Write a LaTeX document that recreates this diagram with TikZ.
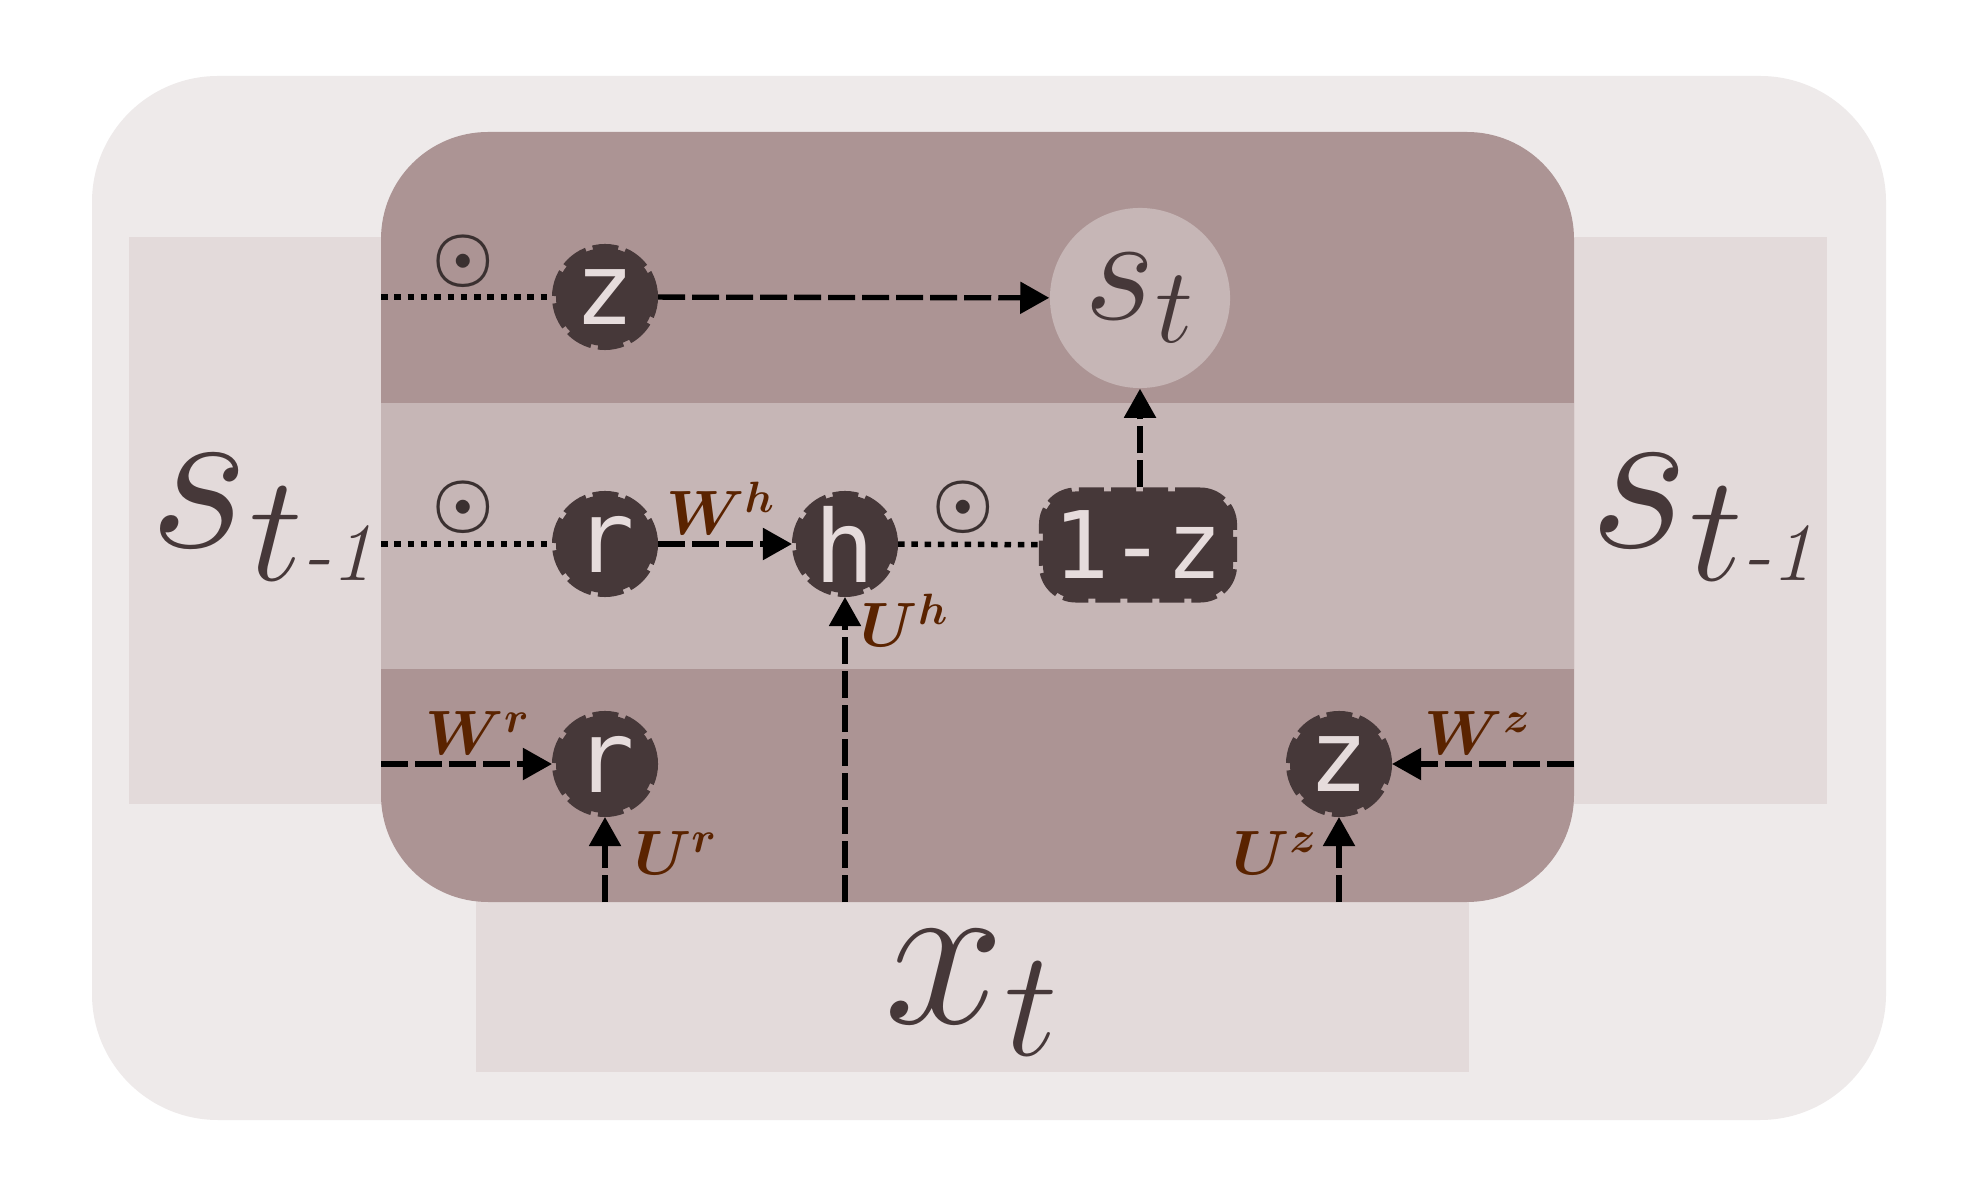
\RequirePackage{fix-cm}
\documentclass[tikz,border=0pt]{standalone}
\usepackage{amsmath}
\usepackage{fontspec}
\usepackage{bm}
\usetikzlibrary{arrows.meta}
\newfontfamily\gatefont{DejaVu Sans Mono}
\definecolor{outerbg}{HTML}{EEEAEA}
\definecolor{sidebg}{HTML}{E3DADA}
\definecolor{mainbg}{HTML}{AC9494}
\definecolor{midbg}{HTML}{C6B6B6}
\definecolor{gatedark}{HTML}{463839}
\definecolor{gatetext}{HTML}{E6DCDC}
\definecolor{labelbrown}{HTML}{5A2300}
\definecolor{odotcol}{HTML}{3A3030}
\newcommand{\minusone}{\mbox{\fontsize{23.5}{25}\selectfont\itshape -1}}
\tikzset{
  gate/.style={circle, fill=gatedark, draw=gatedark, line width=0.08cm,
    dash pattern=on 0.25cm off 0.07cm, minimum size=0.98cm, inner sep=0pt,
    text=gatetext, font=\gatefont\fontsize{28.5}{30}\selectfont},
  gatebox/.style={rectangle, rounded corners=0.33cm, fill=gatedark, draw=gatedark,
    line width=0.08cm, dash pattern=on 0.25cm off 0.07cm,
    minimum width=1.90cm, minimum height=1.07cm, inner sep=0pt,
    text=gatetext, font=\gatefont\fontsize{26.5}{30}\selectfont},
  statecirc/.style={circle, fill=midbg, minimum size=1.80cm, inner sep=0pt,
    text=gatedark, font=\fontsize{43.5}{50}\selectfont},
  bigmath/.style={text=gatedark, font=\fontsize{61.4}{70}\selectfont, anchor=base, inner sep=0pt},
  wlabel/.style={text=labelbrown, font=\fontsize{17.8}{20}\selectfont, anchor=base, inner sep=0pt},
  odotsym/.style={text=odotcol, font=\fontsize{19.6}{22}\selectfont, inner sep=0pt},
  flow/.style={draw=black, line width=0.053cm, dash pattern=on 0.27cm off 0.07cm,
    -{Triangle[length=0.29cm,width=0.31cm]}},
  dotflow/.style={draw=black, line width=0.055cm, dash pattern=on 0.065cm off 0.068cm}
}
\begin{document}
\begin{tikzpicture}[x=0.01cm,y=-0.01cm]
\useasboundingbox (0,0) rectangle (1976,1183);
\fill[white] (0,0) rectangle (1976,1183);
% panels
\fill[outerbg, rounded corners=1.26cm] (92,76) rectangle (1886,1120);
\fill[sidebg] (129,237) rectangle (1827,804);
\fill[sidebg] (476,850) rectangle (1469,1072);
\fill[mainbg, rounded corners=1.07cm] (381,132) rectangle (1574,902);
\fill[midbg] (381,403) rectangle (1574,669);
% big texts
\node[bigmath] (sprevL) at (262,548) {$s_{t\minusone}$};
\node[bigmath] (sprevR) at (1702,548) {$s_{t\minusone}$};
\node[bigmath] (xt) at (972,1023) {$x_t$};
% nodes
\node[gate] (ztop) at (605,297) {z};
\node[statecirc] (st) at (1140,298) {$s_t$};
\node[gate] (rmid) at (605,544) {r};
\node[gate] (h) at (845,544) {h};
\node[gatebox] (onemz) at (1138,545) {1-z};
\node[gate] (rbot) at (605,764) {r};
\node[gate] (zbot) at (1339,764) {z};
% odot symbols
\node[odotsym] (o1) at (463,261) {$\bm{\odot}$};
\node[odotsym] (o2) at (463,507) {$\bm{\odot}$};
\node[odotsym] (o3) at (963,507) {$\bm{\odot}$};
% weight labels
\node[wlabel] (Wh) at (721,535) {$\bm{W^{h}}$};
\node[wlabel] (Uh) at (905,647) {$\bm{U^{h}}$};
\node[wlabel] (Wr) at (478,755) {$\bm{W^{r}}$};
\node[wlabel] (Ur) at (676,875) {$\bm{U^{r}}$};
\node[wlabel] (Wz) at (1478,755) {$\bm{W^{z}}$};
\node[wlabel] (Uz) at (1275,875) {$\bm{U^{z}}$};
% connector end points
\coordinate (inZ) at (381,297);
\coordinate (inR) at (381,544);
\coordinate (inRb) at (381,764);
\coordinate (inZb) at (1574,764);
\coordinate (xR) at (605,902);
\coordinate (xH) at (845,902);
\coordinate (xZ) at (1339,902);
% connectors
\draw[dotflow] (inZ) -- (ztop);
\draw[flow] (ztop) -- (st);
\draw[dotflow] (inR) -- (rmid);
\draw[flow] (rmid) -- (h);
\draw[dotflow] (h) -- (onemz);
\draw[flow] (onemz.north -| st.south) -- (st.south);
\draw[flow] (xH) -- (h);
\draw[flow] (inRb) -- (rbot);
\draw[flow] (xR) -- (rbot);
\draw[flow] (inZb) -- (zbot);
\draw[flow] (xZ) -- (zbot);
\end{tikzpicture}
\end{document}
